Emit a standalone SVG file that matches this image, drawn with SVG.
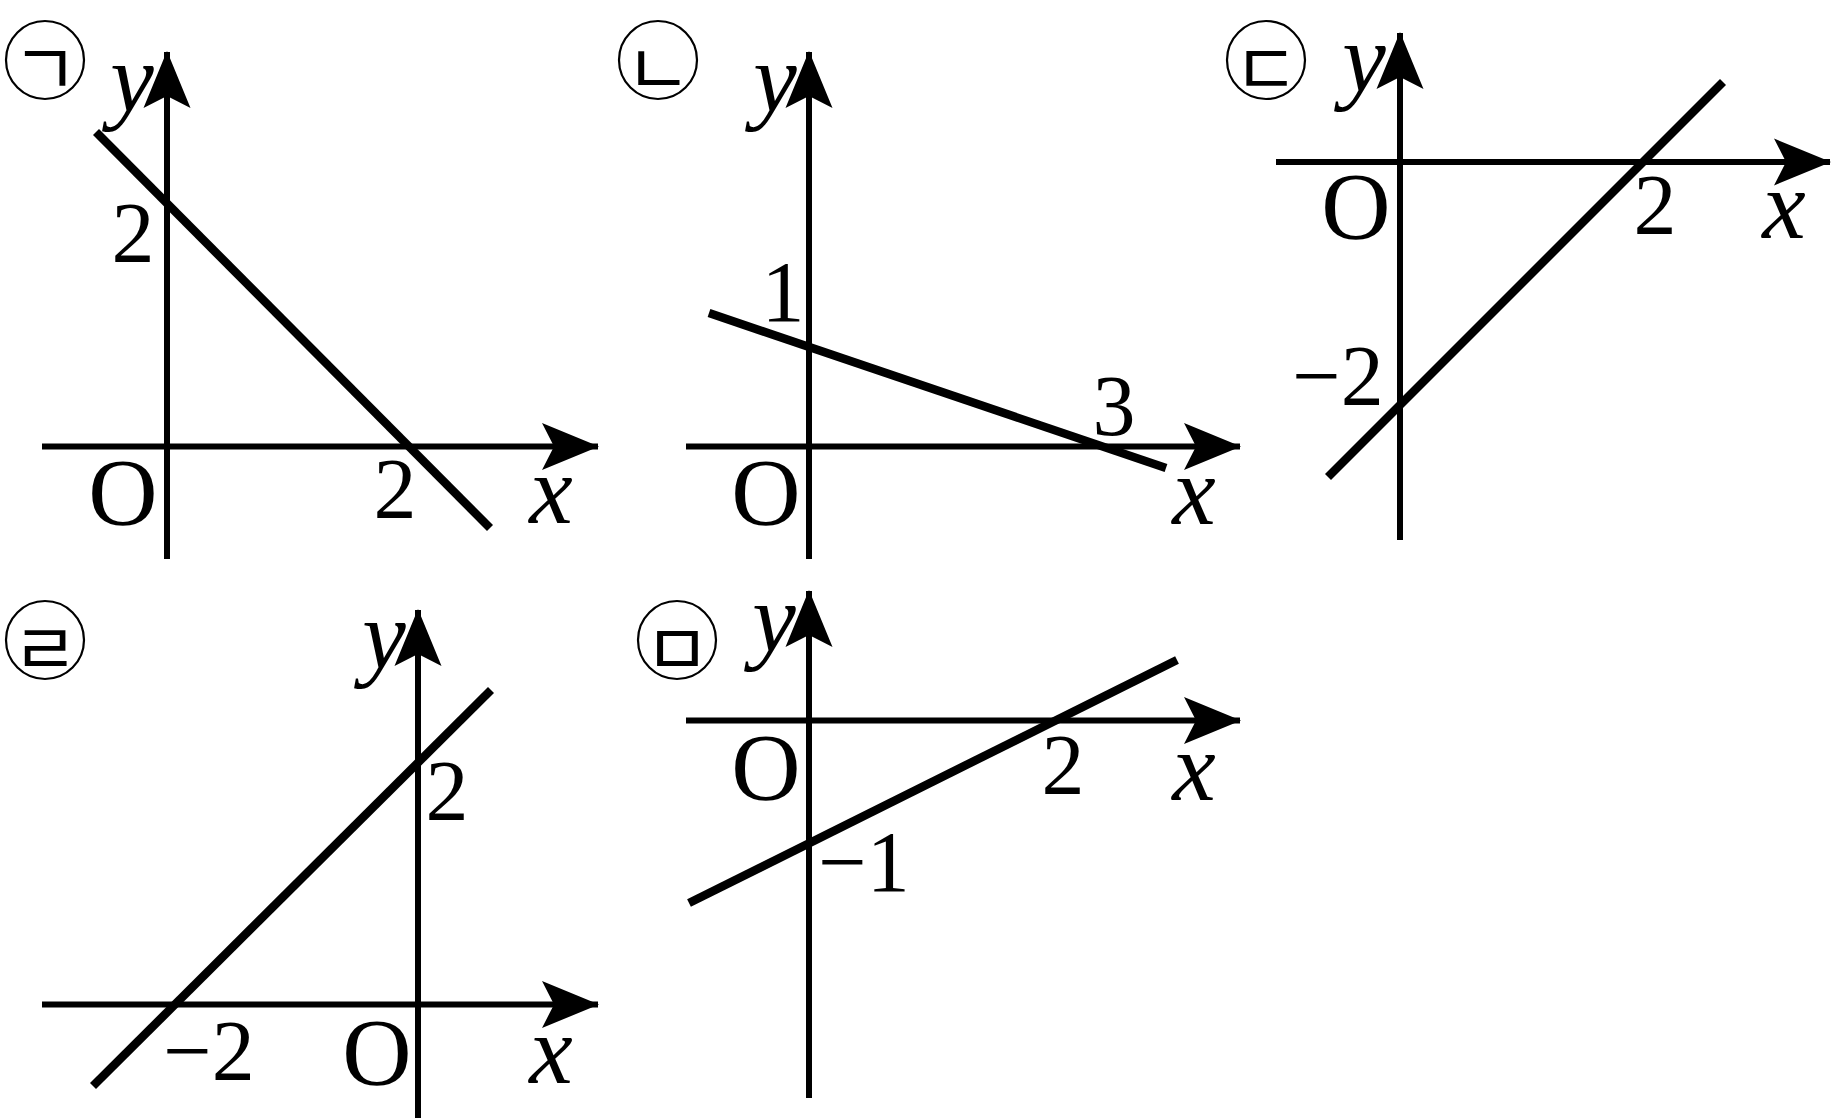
<svg xmlns="http://www.w3.org/2000/svg" width="1832" height="1119" viewBox="0 0 1832 1119">
<style>
.ax{stroke:#000;stroke-width:6;fill:none;marker-end:url(#arr)}
.gl{stroke:#000;stroke-width:8.5;fill:none}
.ci{stroke:#000;stroke-width:2.2;fill:none}
.jm{font-family:"Noto Sans CJK KR",sans-serif;font-size:72px;font-weight:400;text-anchor:middle;dominant-baseline:central}
.num{font-family:"Liberation Serif",serif;font-size:86px;text-anchor:middle}
.o{font-family:"Liberation Serif",serif;font-size:96px;text-anchor:middle}
.it{font-family:"Liberation Serif",serif;font-style:italic;font-size:98px;text-anchor:middle}
</style>
<defs>
<marker id="arr" markerUnits="userSpaceOnUse" markerWidth="60" markerHeight="50" viewBox="0 -25 57 50" refX="56" refY="0" orient="auto">
<path d="M0,-23.5 L57,0 L0,23.5 L12,0 Z" fill="#000"/>
</marker>
</defs>
<rect width="1832" height="1119" fill="#fff"/>

<g id="panel-1">
<circle class="ci" cx="45" cy="60" r="39"/>
<text class="jm" x="45" y="63">ㄱ</text>
<text class="it" x="132" y="111">y</text>
<text class="num" x="133" y="262">2</text>
<text class="o" x="123" y="525">O</text>
<text class="num" x="395" y="518">2</text>
<text class="it" x="551" y="523">x</text>
</g>
<g id="panel-2">
<circle class="ci" cx="658" cy="60" r="39"/>
<text class="jm" x="658" y="63">ㄴ</text>
<text class="it" x="775" y="111">y</text>
<text class="num" x="783" y="321">1</text>
<text class="num" x="1114" y="435">3</text>
<text class="o" x="766" y="525">O</text>
<text class="it" x="1194" y="524">x</text>
</g>
<g id="panel-3">
<circle class="ci" cx="1266" cy="60" r="39"/>
<text class="jm" x="1266" y="63">ㄷ</text>
<text class="it" x="1364" y="91">y</text>
<text class="o" x="1356" y="239">O</text>
<text class="num" x="1655" y="234">2</text>
<text class="it" x="1784" y="238">x</text>
<text class="num" x="1338" y="405">−2</text>
</g>
<g id="panel-4">
<circle class="ci" cx="45" cy="640" r="39"/>
<text class="jm" x="45" y="643">ㄹ</text>
<text class="it" x="384" y="668">y</text>
<text class="num" x="447" y="820">2</text>
<text class="num" x="209" y="1080">−2</text>
<text class="o" x="377" y="1085">O</text>
<text class="it" x="551" y="1083">x</text>
</g>
<g id="panel-5">
<circle class="ci" cx="677" cy="640" r="39"/>
<text class="jm" x="677" y="643">ㅁ</text>
<text class="it" x="774" y="651">y</text>
<text class="o" x="766" y="800">O</text>
<text class="num" x="1063" y="794">2</text>
<text class="it" x="1194" y="800">x</text>
<text class="num" x="864" y="891">−1</text>
</g>

<g id="connectors">
<line class="ax" x1="42" y1="446.5" x2="598" y2="446.5"/>
<line class="ax" x1="167" y1="559" x2="167" y2="52"/>
<line class="gl" x1="96" y1="132" x2="490" y2="528"/>

<line class="ax" x1="686" y1="446.5" x2="1240" y2="446.5"/>
<line class="ax" x1="809" y1="559" x2="809" y2="52"/>
<line class="gl" x1="709" y1="313" x2="1166" y2="468"/>

<line class="ax" x1="1276" y1="162" x2="1830" y2="162"/>
<line class="ax" x1="1400" y1="540" x2="1400" y2="33"/>
<line class="gl" x1="1328" y1="477" x2="1723" y2="82"/>

<line class="ax" x1="42" y1="1004.5" x2="598" y2="1004.5"/>
<line class="ax" x1="418" y1="1118" x2="418" y2="610"/>
<line class="gl" x1="93" y1="1086" x2="491" y2="690"/>

<line class="ax" x1="686" y1="720.5" x2="1240" y2="720.5"/>
<line class="ax" x1="809" y1="1098" x2="809" y2="591"/>
<line class="gl" x1="689" y1="903" x2="1177" y2="660"/>
</g>
</svg>
